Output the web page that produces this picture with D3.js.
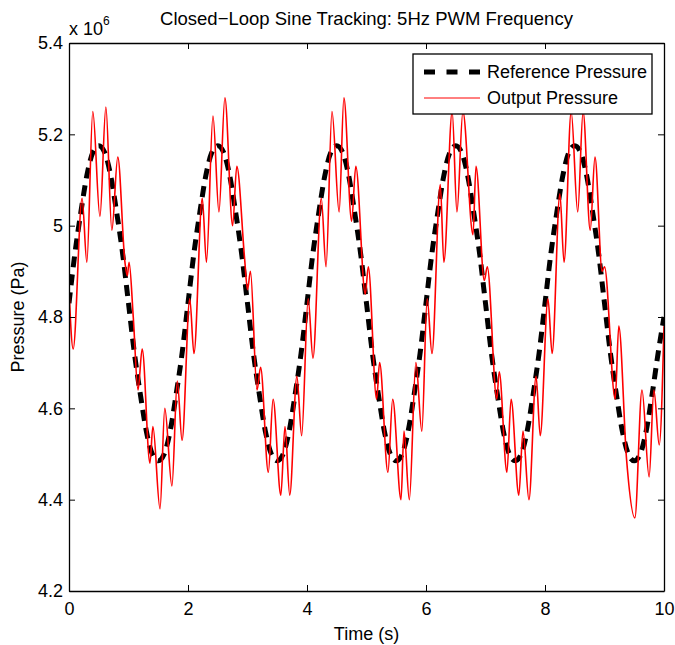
<!DOCTYPE html>
<html>
<head>
<meta charset="utf-8">
<script src="https://cdn.jsdelivr.net/npm/d3@7"></script>
<style>
  body { margin: 0; background: #fff; }
  text { font-family: "Liberation Sans", Arial, sans-serif; fill: #000; }
</style>
</head>
<body>
<div id="chart"></div>
<script>
// reference pressure, x10^6 Pa, sampled every 0.1 s
let refT = d3.range(0, 101).map(i => i / 10)
let refP = [
  4.83, 4.94, 5.03, 5.11, 5.16, 5.175, 5.16, 5.11, 5.03, 4.94,
  4.83, 4.72, 4.63, 4.55, 4.50, 4.485, 4.50, 4.55, 4.63, 4.72,
  4.83, 4.94, 5.03, 5.11, 5.16, 5.175, 5.16, 5.11, 5.03, 4.94,
  4.83, 4.72, 4.63, 4.55, 4.50, 4.485, 4.50, 4.55, 4.63, 4.72,
  4.83, 4.94, 5.03, 5.11, 5.16, 5.175, 5.16, 5.11, 5.03, 4.94,
  4.83, 4.72, 4.63, 4.55, 4.50, 4.485, 4.50, 4.55, 4.63, 4.72,
  4.83, 4.94, 5.03, 5.11, 5.16, 5.175, 5.16, 5.11, 5.03, 4.94,
  4.83, 4.72, 4.63, 4.55, 4.50, 4.485, 4.50, 4.55, 4.63, 4.72,
  4.83, 4.94, 5.03, 5.11, 5.16, 5.175, 5.16, 5.11, 5.03, 4.94,
  4.83, 4.72, 4.63, 4.55, 4.50, 4.485, 4.50, 4.55, 4.63, 4.72,
  4.80
]

let outT = [
  0.00, 0.07, 0.22, 0.30, 0.40, 0.52, 0.62, 0.72, 0.82, 0.94, 0.98, 1.01, 1.08,
  1.16, 1.23, 1.36, 1.41, 1.53, 1.61, 1.73, 1.82, 1.90, 2.03, 2.10,
  2.24, 2.31, 2.42, 2.52, 2.62, 2.75, 2.82, 2.95, 3.00, 3.05,
  3.16, 3.22, 3.35, 3.43, 3.56, 3.63, 3.71, 3.83, 3.91, 4.02, 4.10,
  4.24, 4.32, 4.42, 4.54, 4.62, 4.75, 4.82, 4.98, 5.03,
  5.17, 5.22, 5.36, 5.44, 5.58, 5.63, 5.72, 5.83, 5.93, 6.02, 6.10,
  6.24, 6.30, 6.44, 6.52, 6.62, 6.79, 6.84, 6.98, 7.03,
  7.19, 7.23, 7.36, 7.43, 7.56, 7.63, 7.73, 7.85, 7.92, 8.05, 8.12,
  8.25, 8.32, 8.44, 8.55, 8.64, 8.76, 8.84, 8.96, 9.00,
  9.18, 9.24, 9.37, 9.51, 9.63, 9.75, 9.83, 9.92, 10.00
]
let outP = [
  4.86, 4.73, 5.06, 4.92, 5.25, 5.02, 5.26, 4.99, 5.15, 4.92, 4.89, 4.92, 4.80,
  4.64, 4.73, 4.48, 4.56, 4.38, 4.60, 4.43, 4.66, 4.53, 4.84, 4.72,
  5.06, 4.92, 5.24, 5.03, 5.28, 5.00, 5.13, 4.93, 4.86, 4.90,
  4.64, 4.69, 4.46, 4.62, 4.41, 4.56, 4.41, 4.67, 4.54, 4.84, 4.71,
  5.06, 4.91, 5.25, 5.03, 5.28, 5.01, 5.13, 4.85, 4.91,
  4.62, 4.70, 4.46, 4.62, 4.40, 4.55, 4.40, 4.70, 4.55, 4.84, 4.72,
  5.09, 4.92, 5.25, 5.03, 5.25, 4.98, 5.13, 4.88, 4.91,
  4.62, 4.68, 4.46, 4.62, 4.41, 4.55, 4.40, 4.67, 4.54, 4.84, 4.72,
  5.07, 4.92, 5.25, 5.03, 5.25, 4.99, 5.15, 4.90, 4.91,
  4.62, 4.78, 4.49, 4.36, 4.64, 4.45, 4.64, 4.52, 4.78
]

let xTicks = [0, 2, 4, 6, 8, 10]
let yTicks = [4.2, 4.4, 4.6, 4.8, 5.0, 5.2, 5.4]
let seriesNames = ['Reference Pressure', 'Output Pressure']

let width = 675
let height = 645
let mLeft = 69, mRight = 664, mTop = 43, mBottom = 591

let svg = d3.select('#chart').append('svg')
  .attr('width', width)
  .attr('height', height)

let x = d3.scaleLinear().domain([0, 10]).range([mLeft, mRight])
let y = d3.scaleLinear().domain([4.2, 5.4]).range([mBottom, mTop])

svg.append('clipPath').attr('id', 'clip')
  .append('rect')
  .attr('x', mLeft).attr('y', mTop)
  .attr('width', mRight - mLeft).attr('height', mBottom - mTop)

let fmt = d => String(+d.toFixed(1))

let plot = svg.append('g').attr('clip-path', 'url(#clip)')

let line = d3.line().x(d => x(d[0])).y(d => y(d[1])).curve(d3.curveMonotoneX)
plot.append('path')
  .datum(refT.map((t, i) => [t, refP[i]]))
  .attr('d', line)
  .attr('fill', 'none')
  .attr('stroke', '#000')
  .attr('stroke-width', 5)
  .attr('stroke-dasharray', '11,7')

plot.append('path')
  .datum(outT.map((t, i) => [t, outP[i]]))
  .attr('d', line)
  .attr('fill', 'none')
  .attr('stroke', '#ff0000')
  .attr('stroke-width', 1.6)
  .attr('stroke-linejoin', 'round')

// box with inward ticks on all sides
svg.append('g')
  .attr('transform', `translate(0,${mBottom})`)
  .call(d3.axisBottom(x).tickValues(xTicks).tickSizeInner(-6).tickSizeOuter(0).tickPadding(11).tickFormat(fmt))
svg.append('g')
  .attr('transform', `translate(0,${mTop})`)
  .call(d3.axisTop(x).tickValues(xTicks).tickSizeInner(-6).tickSizeOuter(0).tickFormat(''))
svg.append('g')
  .attr('transform', `translate(${mLeft},0)`)
  .call(d3.axisLeft(y).tickValues(yTicks).tickSizeInner(-6).tickSizeOuter(0).tickPadding(6).tickFormat(fmt))
svg.append('g')
  .attr('transform', `translate(${mRight},0)`)
  .call(d3.axisRight(y).tickValues(yTicks).tickSizeInner(-6).tickSizeOuter(0).tickFormat(''))

svg.selectAll('.tick text')
  .style('font-size', '18px')
  .style('font-family', '"Liberation Sans", Arial, sans-serif')
svg.selectAll('.domain').attr('stroke', '#000').attr('stroke-width', 1.3)
svg.selectAll('.tick line').attr('stroke', '#000')

// titles
svg.append('text')
  .attr('x', (mLeft + mRight) / 2).attr('y', 25)
  .attr('text-anchor', 'middle')
  .style('font-size', '18.5px')
  .text('Closed\u2212Loop Sine Tracking: 5Hz PWM Frequency')

svg.append('text')
  .attr('x', (mLeft + mRight) / 2).attr('y', 640)
  .attr('text-anchor', 'middle')
  .style('font-size', '18px')
  .text('Time (s)')

svg.append('text')
  .attr('transform', `translate(24,${(mTop + mBottom) / 2}) rotate(-90)`)
  .attr('text-anchor', 'middle')
  .style('font-size', '18px')
  .text('Pressure (Pa)')

let expo = svg.append('text')
  .attr('x', 69).attr('y', 35)
  .style('font-size', '18px')
expo.append('tspan').text('x 10')
expo.append('tspan').attr('dy', -10).style('font-size', '12px').text('6')

// legend
let lg = svg.append('g')
lg.append('rect')
  .attr('x', 413).attr('y', 54).attr('width', 239).attr('height', 60)
  .attr('fill', '#fff').attr('stroke', '#000').attr('stroke-width', 1.3)
lg.append('line')
  .attr('x1', 424).attr('x2', 480).attr('y1', 72).attr('y2', 72)
  .attr('stroke', '#000').attr('stroke-width', 5).attr('stroke-dasharray', '11,11.5')
lg.append('line')
  .attr('x1', 424).attr('x2', 480).attr('y1', 98).attr('y2', 98)
  .attr('stroke', '#ff0000').attr('stroke-width', 1)
lg.selectAll('text.leg')
  .data(seriesNames)
  .enter()
  .append('text')
  .attr('class', 'leg')
  .attr('x', 487)
  .attr('y', (d, i) => 78 + i * 26)
  .style('font-size', '18px')
  .text(d => d)
</script>
</body>
</html>
